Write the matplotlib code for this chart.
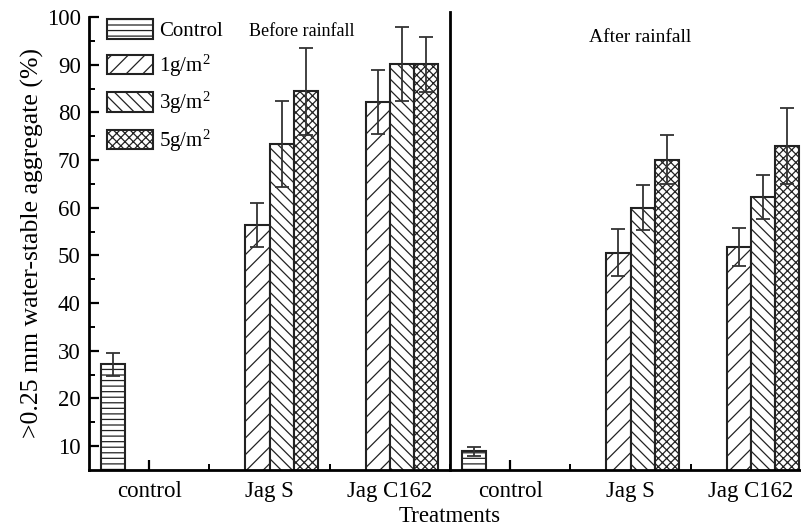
import numpy as np
import matplotlib
matplotlib.use("Agg")
import matplotlib.pyplot as plt
from matplotlib.patches import Patch

plt.rcParams['font.family'] = ['Liberation Serif', 'DejaVu Serif']
plt.rcParams['mathtext.fontset'] = 'custom'
plt.rcParams['mathtext.rm'] = 'Liberation Serif'
plt.rcParams['mathtext.it'] = 'Liberation Serif:italic'
plt.rcParams['hatch.linewidth'] = 0.9

# Treatment groups along the x axis (before rainfall | after rainfall)
categories = ["control", "Jag S", "Jag C162", "control", "Jag S", "Jag C162"]
series_names = ["Control", "1g/m$^2$", "3g/m$^2$", "5g/m$^2$"]

# Water-stable aggregate (%) per series; None where a series has no bar
control_vals = [27.2, None, None, 8.9, None, None]
control_err = [2.4, None, None, 1.0, None, None]
g1_vals = [None, 56.4, 82.1, None, 50.6, 51.7]
g1_err = [None, 4.6, 6.7, None, 5.0, 4.0]
g3_vals = [None, 73.4, 90.2, None, 60.0, 62.3]
g3_err = [None, 9.0, 7.8, None, 4.7, 4.6]
g5_vals = [None, 84.4, 90.1, None, 70.1, 73.0]
g5_err = [None, 9.2, 5.8, None, 5.1, 8.0]

series_vals = [control_vals, g1_vals, g3_vals, g5_vals]
series_errs = [control_err, g1_err, g3_err, g5_err]
hatches = ['---', '//', '\\\\\\', 'xxxx']

fig = plt.figure(figsize=(8.01, 5.28), dpi=100)
ax = fig.add_axes([89 / 801, 58 / 528, 722 / 801, 453 / 528])

x = np.arange(1, len(categories) + 1)
width = 0.2
offsets = [-1.5, -0.5, 0.5, 1.5]

for vals, errs, off, hatch in zip(series_vals, series_errs, offsets, hatches):
    idx = [i for i, v in enumerate(vals) if v is not None]
    xs = x[idx] + off * width
    hs = [vals[i] for i in idx]
    es = [errs[i] for i in idx]
    ax.bar(xs, hs, width=width, bottom=0, color='white', edgecolor='#222222',
           linewidth=1.5, hatch=hatch, zorder=2)
    ax.errorbar(xs, hs, yerr=es, fmt='none', ecolor='#333333', elinewidth=1.3,
                capsize=5, capthick=1.3, zorder=3)

ax.set_xlim(0.5, 6.5)
ax.set_ylim(5, 100)

ax.set_xticks(x)
ax.set_xticklabels(categories, fontsize=16.5)
ax.set_xticks(np.arange(1.5, 7, 1), minor=True)
ax.set_yticks(np.arange(10, 101, 10))
ax.set_yticks(np.arange(15, 100, 10), minor=True)
ax.tick_params(axis='y', labelsize=16.5)
ax.tick_params(axis='x', pad=8)
ax.tick_params(which='major', direction='in', length=7, width=1.6)
ax.tick_params(axis='y', which='major', pad=6)
ax.tick_params(which='minor', direction='in', length=4, width=1.4)

for side in ['top', 'right']:
    ax.spines[side].set_visible(False)
for side in ['left', 'bottom']:
    ax.spines[side].set_linewidth(2)

# Divider between the before/after rainfall panels
ax.plot([3.5, 3.5], [5, 101], color='black', lw=2, clip_on=False, zorder=4)

ax.text(1.83, 97.0, "Before rainfall", fontsize=13, ha='left', va='center')
ax.text(4.655, 95.8, "After rainfall", fontsize=14, ha='left', va='center')

ax.set_ylabel(">0.25 mm water-stable aggregate (%)", fontsize=18.5, labelpad=2)
ax.set_xlabel("Treatments", fontsize=16.5, labelpad=3)

handles = [Patch(facecolor='white', edgecolor='#222222', linewidth=1.5, hatch=h)
           for h in hatches]
ax.legend(handles, series_names, loc='upper left', bbox_to_anchor=(0.025, 0.995),
          frameon=False, fontsize=15, handlelength=2.2, handleheight=1.06,
          handletextpad=0.3, labelspacing=0.55, borderpad=0, borderaxespad=0)

fig.savefig("out.png", dpi=100)
